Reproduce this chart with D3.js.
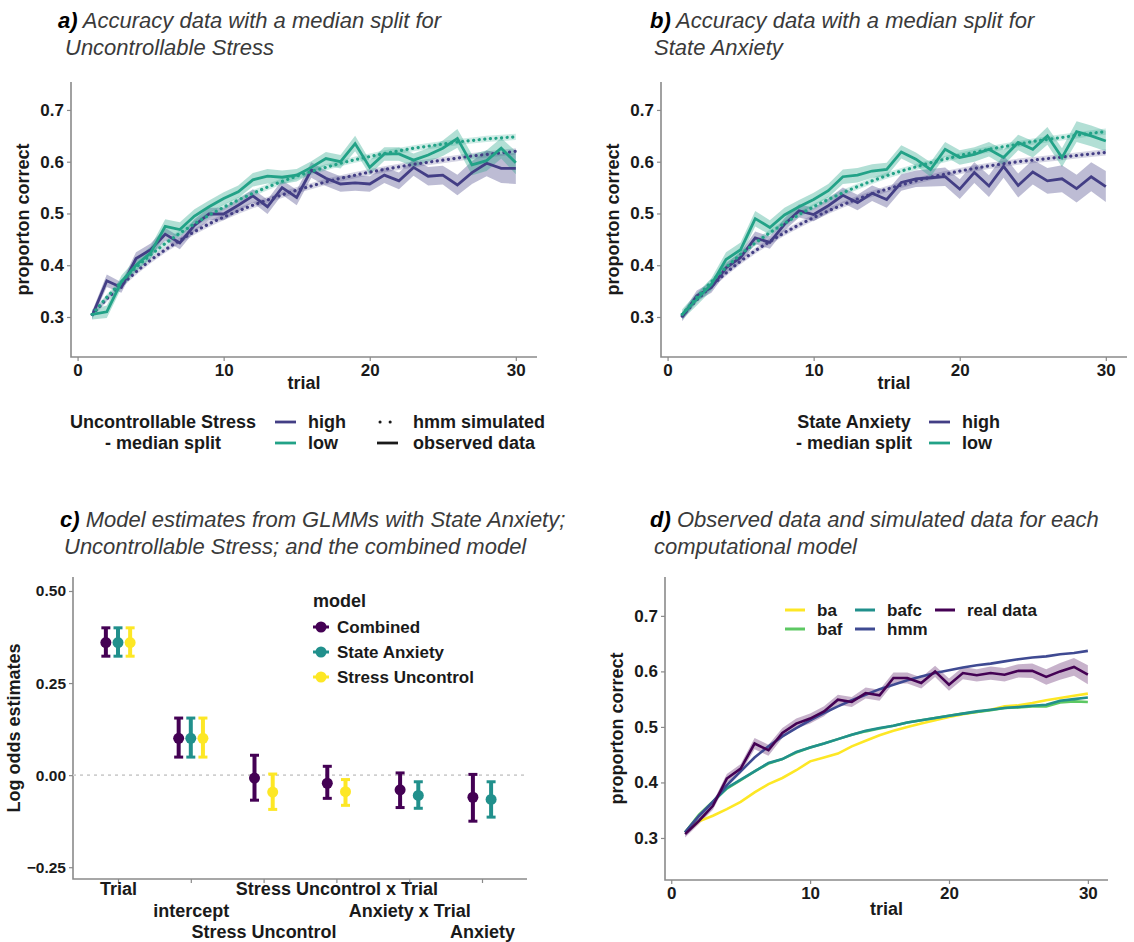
<!DOCTYPE html>
<html>
<head>
<meta charset="utf-8">
<script src="https://cdn.jsdelivr.net/npm/d3@7/dist/d3.min.js"></script>
<style>
  body { margin: 0; background: #fff; }
  text { font-family: "Liberation Sans", Arial, sans-serif; }
</style>
</head>
<body>
<svg id="fig" width="1134" height="942"></svg>
<script>
// ---- data ----
const trials = [1,2,3,4,5,6,7,8,9,10,11,12,13,14,15,16,17,18,19,20,21,22,23,24,25,26,27,28,29,30];
const xTicks = [0, 10, 20, 30];
const yTicksProp = [0.3, 0.4, 0.5, 0.6, 0.7];

// a) uncontrollable stress median split
const stressHighObs = [.303,.370,.357,.413,.430,.460,.443,.477,.499,.499,.516,.534,.513,.550,.531,.584,.568,.557,.559,.557,.574,.563,.589,.572,.574,.555,.579,.597,.587,.587];
const stressHighSe  = [.008,.012,.010,.012,.012,.012,.012,.012,.012,.012,.012,.013,.014,.014,.015,.015,.015,.015,.015,.015,.015,.016,.016,.018,.018,.020,.022,.025,.028,.030];
const stressLowObs  = [.305,.310,.368,.400,.424,.475,.469,.495,.513,.529,.542,.565,.572,.570,.574,.589,.606,.600,.635,.589,.615,.615,.603,.613,.626,.645,.594,.602,.626,.598];
const stressLowSe   = [.010,.012,.012,.012,.012,.014,.014,.013,.012,.012,.012,.013,.014,.013,.012,.012,.013,.013,.015,.014,.013,.013,.013,.013,.015,.018,.020,.020,.020,.022];
const stressHighSim = [.305,.335,.362,.387,.410,.430,.448,.465,.480,.493,.505,.516,.526,.536,.545,.553,.561,.568,.574,.580,.585,.590,.595,.599,.603,.607,.611,.614,.617,.620];
const stressLowSim  = [.305,.338,.368,.396,.420,.442,.462,.480,.497,.512,.526,.539,.551,.562,.572,.581,.589,.597,.604,.610,.616,.621,.626,.630,.634,.638,.641,.644,.646,.648];

// b) state anxiety median split
const anxHighObs = [.300,.341,.357,.395,.415,.453,.444,.479,.505,.498,.515,.535,.521,.539,.527,.560,.567,.569,.571,.547,.579,.553,.591,.554,.580,.563,.567,.548,.571,.552];
const anxHighSe  = [.008,.010,.010,.010,.010,.012,.012,.012,.013,.013,.014,.015,.015,.015,.016,.016,.016,.017,.018,.019,.020,.021,.022,.023,.024,.025,.026,.027,.028,.030];
const anxLowObs  = [.305,.334,.363,.411,.430,.490,.473,.497,.513,.527,.544,.571,.574,.582,.585,.619,.605,.585,.624,.608,.614,.624,.608,.637,.624,.650,.608,.658,.650,.640];
const anxLowSe   = [.010,.012,.012,.014,.014,.015,.014,.014,.013,.013,.013,.014,.014,.013,.013,.013,.013,.014,.014,.014,.014,.014,.015,.015,.016,.017,.018,.020,.020,.020];
const anxHighSim = [.302,.333,.360,.385,.408,.428,.446,.463,.478,.492,.505,.517,.528,.538,.547,.555,.563,.570,.576,.582,.587,.592,.596,.600,.603,.606,.609,.612,.615,.618];
const anxLowSim  = [.305,.338,.368,.396,.421,.443,.463,.481,.498,.513,.527,.540,.552,.563,.573,.582,.590,.598,.605,.612,.618,.624,.629,.634,.639,.643,.647,.651,.655,.658];
const simSe = 0.006;

// c) GLMM estimates (null = term not in that model)
const terms = ['Trial', 'intercept', 'Stress Uncontrol', 'Stress Uncontrol x Trial', 'Anxiety x Trial', 'Anxiety'];
const models = ['Combined', 'State Anxiety', 'Stress Uncontrol'];
const estCombined = [0.360, 0.100, -0.008, -0.022, -0.040, -0.060];
const loCombined  = [0.323, 0.049, -0.068, -0.063, -0.088, -0.125];
const hiCombined  = [0.400, 0.155,  0.054,  0.024,  0.006,  0.002];
const estAnxiety  = [0.360, 0.100, null, null, -0.055, -0.066];
const loAnxiety   = [0.323, 0.049, null, null, -0.090, -0.114];
const hiAnxiety   = [0.400, 0.155, null, null, -0.018, -0.018];
const estStress   = [0.360, 0.100, -0.046, -0.045, null, null];
const loStress    = [0.323, 0.049, -0.093, -0.082, null, null];
const hiStress    = [0.400, 0.155,  0.003, -0.012, null, null];
const yTicksGlmm = [-0.25, 0, 0.25, 0.5];

// d) observed vs simulated data per computational model
const baSim   = [.310,.330,.340,.352,.365,.382,.397,.408,.422,.438,.445,.452,.465,.475,.485,.493,.500,.506,.512,.518,.523,.527,.531,.537,.539,.543,.548,.552,.556,.560];
const bafSim  = [.310,.342,.366,.389,.404,.420,.434,.442,.454,.463,.470,.478,.486,.492,.497,.502,.508,.512,.516,.520,.524,.527,.530,.534,.535,.537,.537,.544,.546,.545];
const bafcSim = [.310,.340,.365,.390,.405,.420,.435,.442,.455,.463,.470,.478,.486,.493,.498,.502,.508,.512,.516,.520,.524,.528,.531,.534,.536,.538,.540,.547,.550,.553];
const hmmSim  = [.310,.340,.365,.395,.420,.445,.465,.483,.498,.512,.525,.537,.548,.558,.568,.576,.584,.591,.597,.602,.607,.611,.614,.618,.622,.625,.627,.631,.633,.637];
const realObs = [.307,.331,.358,.407,.425,.470,.458,.489,.506,.515,.528,.549,.545,.561,.557,.588,.588,.579,.600,.576,.597,.593,.597,.594,.601,.601,.590,.600,.608,.594];
const realSe  = [.006,.006,.007,.008,.008,.010,.010,.009,.009,.009,.009,.009,.009,.010,.010,.010,.010,.010,.010,.011,.011,.011,.012,.012,.012,.013,.014,.015,.016,.017];
const dModels = ['ba', 'baf', 'bafc', 'hmm', 'real data'];

// ---- style ----
const colHigh = '#433E85';
const colLow = '#22A287';
const modelColor = { 'Combined': '#440154', 'State Anxiety': '#21908C', 'Stress Uncontrol': '#FDE725' };
const dColor = { 'ba': '#FDE725', 'baf': '#5DC863', 'bafc': '#21908C', 'hmm': '#3F4A92', 'real data': '#440154' };
const axisCol = '#8a8a8a';
const textCol = '#1a1a1a';

const svg = d3.select('#fig');

function title(x1, x2, y1, y2, letter, line1, line2) {
    const t = svg.append('text').attr('x', x1).attr('y', y1)
        .style('font-size', '22px').style('font-style', 'italic');
    t.append('tspan').text(letter).style('font-weight', 'bold').attr('fill', '#000');
    t.append('tspan').text(' ' + line1).attr('fill', '#3a3a3a');
    svg.append('text').attr('x', x2).attr('y', y2)
        .style('font-size', '22px').style('font-style', 'italic')
        .attr('fill', '#3a3a3a').text(line2);
}

function styleAxis(g, size) {
    g.select('.domain').remove();
    g.selectAll('.tick line').attr('stroke', axisCol).attr('stroke-width', 1.2);
    g.selectAll('.tick text').attr('fill', textCol)
        .style('font-size', size + 'px').style('font-weight', 'bold')
        .style('font-family', '"Liberation Sans", Arial, sans-serif');
}

function frame(x0, x1, y0, y1) {
    svg.append('path')
        .attr('d', `M${x0},${y0}V${y1}H${x1}`)
        .attr('fill', 'none').attr('stroke', axisCol).attr('stroke-width', 1.6);
}

function axisTitle(x, y, txt, rotate) {
    const t = svg.append('text').attr('text-anchor', 'middle')
        .style('font-size', '18px').style('font-weight', 'bold').attr('fill', textCol).text(txt);
    if (rotate) t.attr('transform', `translate(${x},${y}) rotate(-90)`);
    else t.attr('x', x).attr('y', y);
}

// line panel for a) and b)
function splitPanel(box, series) {
    const x = d3.scaleLinear().domain([-0.45, 31.45]).range([box.left, box.right]);
    const y = d3.scaleLinear().domain([0.2227, 0.754]).range([box.bottom, box.top]);

    frame(box.left, box.right, box.top, box.bottom);
    svg.append('g').attr('transform', `translate(0,${box.bottom})`)
        .call(d3.axisBottom(x).tickValues(xTicks).tickSize(4).tickPadding(3))
        .call(g => styleAxis(g, 17));
    svg.append('g').attr('transform', `translate(${box.left},0)`)
        .call(d3.axisLeft(y).tickValues(yTicksProp).tickSize(4).tickFormat(d3.format('.1f')))
        .call(g => styleAxis(g, 17));

    const area = d3.area().x((d, i) => x(trials[i]))
        .y0(d => y(d.lo)).y1(d => y(d.hi));
    const line = d3.line().x((d, i) => x(trials[i])).y(d => d);

    series.forEach(s => {
        const band = s.obs.map((v, i) => ({ lo: v - s.se[i], hi: v + s.se[i] }));
        const simBand = s.sim.map(v => ({ lo: v - simSe, hi: v + simSe }));
        svg.append('path').attr('d', area(simBand)).attr('fill', s.color).attr('opacity', 0.22);
        svg.append('path').attr('d', area(band)).attr('fill', s.color).attr('opacity', 0.35);
    });
    series.forEach(s => {
        svg.append('path').attr('d', line(s.obs.map(v => y(v))))
            .attr('fill', 'none').attr('stroke', s.color).attr('stroke-width', 2.8);
        svg.append('path').attr('d', line(s.sim.map(v => y(v))))
            .attr('fill', 'none').attr('stroke', s.color).attr('stroke-width', 3.2)
            .attr('stroke-linecap', 'round').attr('stroke-dasharray', '0.1,5.5');
    });

    axisTitle(box.left - 42, (box.top + box.bottom) / 2, 'proporton correct', true);
    axisTitle((box.left + box.right) / 2, box.bottom + 32, 'trial', false);
}

// ---- panel a ----
title(58, 65, 28, 55, 'a)', 'Accuracy data with a median split for', 'Uncontrollable Stress');
splitPanel({ left: 71, right: 537, top: 82, bottom: 357 }, [
    { obs: stressHighObs, se: stressHighSe, sim: stressHighSim, color: colHigh },
    { obs: stressLowObs, se: stressLowSe, sim: stressLowSim, color: colLow }
]);

// ---- panel b ----
title(650, 654, 28, 55, 'b)', 'Accuracy data with a median split for', 'State Anxiety');
splitPanel({ left: 661, right: 1127, top: 82, bottom: 357 }, [
    { obs: anxHighObs, se: anxHighSe, sim: anxHighSim, color: colHigh },
    { obs: anxLowObs, se: anxLowSe, sim: anxLowSim, color: colLow }
]);

// legends a/b
function splitLegend(cx, keyX, title1, withLineType) {
    const rows = [428, 449];
    [title1, '- median split'].forEach((t, i) => {
        svg.append('text').attr('x', cx).attr('y', rows[i]).attr('text-anchor', 'middle')
            .style('font-size', '18px').style('font-weight', 'bold').attr('fill', textCol).text(t);
    });
    [['high', colHigh], ['low', colLow]].forEach(([lab, c], i) => {
        svg.append('line').attr('x1', keyX).attr('x2', keyX + 21)
            .attr('y1', rows[i] - 6).attr('y2', rows[i] - 6)
            .attr('stroke', c).attr('stroke-width', 2.8);
        svg.append('text').attr('x', keyX + 33).attr('y', rows[i])
            .style('font-size', '18px').style('font-weight', 'bold').attr('fill', textCol).text(lab);
    });
    if (withLineType) {
        const lx = keyX + 102;
        svg.append('line').attr('x1', lx + 3).attr('x2', lx + 17).attr('y1', rows[0] - 6).attr('y2', rows[0] - 6)
            .attr('stroke', textCol).attr('stroke-width', 3).attr('stroke-linecap', 'round')
            .attr('stroke-dasharray', '0.1,10');
        svg.append('line').attr('x1', lx).attr('x2', lx + 21).attr('y1', rows[1] - 6).attr('y2', rows[1] - 6)
            .attr('stroke', textCol).attr('stroke-width', 2.8);
        svg.append('text').attr('x', lx + 36).attr('y', rows[0])
            .style('font-size', '18px').style('font-weight', 'bold').attr('fill', textCol).text('hmm simulated');
        svg.append('text').attr('x', lx + 36).attr('y', rows[1])
            .style('font-size', '18px').style('font-weight', 'bold').attr('fill', textCol).text('observed data');
    }
}
splitLegend(163, 275, 'Uncontrollable Stress', true);
splitLegend(854, 929, 'State Anxiety', false);

// ---- panel c ----
title(60, 64, 527, 554, 'c)', 'Model estimates from GLMMs with State Anxiety;', 'Uncontrollable Stress; and the combined model');
(function () {
    const box = { left: 73, right: 527, top: 577, bottom: 879 };
    const x = d3.scalePoint().domain(terms).range([118, 482]);
    const y = d3.scaleLinear().domain([-0.282, 0.538]).range([box.bottom, box.top]);
    const dodge = 0.5 * x.step();

    frame(box.left, box.right, box.top, box.bottom);
    const xa = svg.append('g').attr('transform', `translate(0,${box.bottom})`)
        .call(d3.axisBottom(x).tickSize(4).tickPadding(2))
        .call(g => styleAxis(g, 18));
    // three staggered label rows
    xa.selectAll('.tick text').attr('dy', null).attr('y', (d, i) => 16 + (i % 3) * 21.5);
    svg.append('g').attr('transform', `translate(${box.left},0)`)
        .call(d3.axisLeft(y).tickValues(yTicksGlmm).tickSize(4).tickFormat(d3.format('.2f')))
        .call(g => styleAxis(g, 15.5));

    svg.append('line').attr('x1', box.left).attr('x2', box.right)
        .attr('y1', y(0)).attr('y2', y(0))
        .attr('stroke', '#cfcfcf').attr('stroke-width', 1.6).attr('stroke-dasharray', '3,4');

    const byModel = {
        'Combined': [estCombined, loCombined, hiCombined],
        'State Anxiety': [estAnxiety, loAnxiety, hiAnxiety],
        'Stress Uncontrol': [estStress, loStress, hiStress]
    };
    terms.forEach((term, ti) => {
        const present = models.filter(m => byModel[m][0][ti] !== null);
        const n = present.length;
        present.forEach((m, k) => {
            const [est, lo, hi] = byModel[m].map(a => a[ti]);
            const cx = x(term) + (k - (n - 1) / 2) * dodge / n;
            const c = modelColor[m];
            svg.append('line').attr('x1', cx).attr('x2', cx).attr('y1', y(lo)).attr('y2', y(hi))
                .attr('stroke', c).attr('stroke-width', 4);
            [lo, hi].forEach(v => svg.append('line').attr('x1', cx - 4.5).attr('x2', cx + 4.5)
                .attr('y1', y(v)).attr('y2', y(v)).attr('stroke', c).attr('stroke-width', 3));
            svg.append('circle').attr('cx', cx).attr('cy', y(est)).attr('r', 5.5).attr('fill', c);
        });
    });

    axisTitle(20, (box.top + box.bottom) / 2, 'Log odds estimates', true);

    // legend
    svg.append('text').attr('x', 313).attr('y', 607)
        .style('font-size', '18px').style('font-weight', 'bold').attr('fill', textCol).text('model');
    models.forEach((m, i) => {
        const cy = 627 + i * 25;
        svg.append('line').attr('x1', 313).attr('x2', 329).attr('y1', cy).attr('y2', cy)
            .attr('stroke', modelColor[m]).attr('stroke-width', 3);
        svg.append('circle').attr('cx', 321).attr('cy', cy).attr('r', 5.5).attr('fill', modelColor[m]);
        svg.append('text').attr('x', 337).attr('y', cy + 6)
            .style('font-size', '17px').style('font-weight', 'bold').attr('fill', textCol).text(m);
    });
})();

// ---- panel d ----
title(650, 654, 527, 554, 'd)', 'Observed data and simulated data for each', 'computational model');
(function () {
    const box = { left: 665, right: 1108, top: 577, bottom: 880 };
    const x = d3.scaleLinear().domain([-0.45, 31.45]).range([box.left, box.right]);
    const y = d3.scaleLinear().domain([0.2243, 0.770]).range([box.bottom, box.top]);

    frame(box.left, box.right, box.top, box.bottom);
    svg.append('g').attr('transform', `translate(0,${box.bottom})`)
        .call(d3.axisBottom(x).tickValues(xTicks).tickSize(4).tickPadding(3))
        .call(g => styleAxis(g, 17));
    svg.append('g').attr('transform', `translate(${box.left},0)`)
        .call(d3.axisLeft(y).tickValues(yTicksProp).tickSize(4).tickFormat(d3.format('.1f')))
        .call(g => styleAxis(g, 17));

    const line = d3.line().x((d, i) => x(trials[i])).y(d => y(d));
    const area = d3.area().x((d, i) => x(trials[i]))
        .y0((d, i) => y(d - realSe[i])).y1((d, i) => y(d + realSe[i]));

    svg.append('path').attr('d', area(realObs)).attr('fill', dColor['real data']).attr('opacity', 0.3);
    const seriesD = { 'ba': baSim, 'baf': bafSim, 'bafc': bafcSim, 'hmm': hmmSim, 'real data': realObs };
    dModels.forEach(m => {
        svg.append('path').attr('d', line(seriesD[m]))
            .attr('fill', 'none').attr('stroke', dColor[m]).attr('stroke-width', 2.6);
    });

    axisTitle(box.left - 42, (box.top + box.bottom) / 2, 'proporton correct', true);
    axisTitle((box.left + box.right) / 2, box.bottom + 35, 'trial', false);

    // legend: 3 columns, filled column by column
    const colX = [785, 855, 935];
    const rowY = [610, 629];
    dModels.forEach((m, i) => {
        const cx = colX[Math.floor(i / 2)], cy = rowY[i % 2];
        svg.append('line').attr('x1', cx).attr('x2', cx + 20).attr('y1', cy).attr('y2', cy)
            .attr('stroke', dColor[m]).attr('stroke-width', 3);
        svg.append('text').attr('x', cx + 32).attr('y', cy + 6)
            .style('font-size', '17px').style('font-weight', 'bold').attr('fill', textCol).text(m);
    });
})();
</script>
</body>
</html>
